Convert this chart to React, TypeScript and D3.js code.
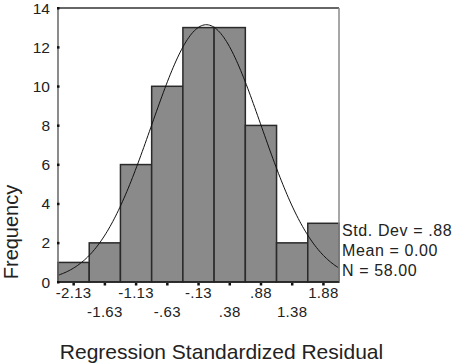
import React from "react";
import * as d3 from "d3";

const binCenters = [-2.125, -1.625, -1.125, -0.625, -0.125, 0.375, 0.875, 1.375, 1.875];
const frequencies = [1, 2, 6, 10, 13, 13, 8, 2, 3];
const tickLabels = ["-2.13", "-1.63", "-1.13", "-.63", "-.13", ".38", ".88", "1.38", "1.88"];
const yTicks = [0, 2, 4, 6, 8, 10, 12, 14];
const statLines = ["Std. Dev = .88", "Mean = 0.00", "N = 58.00"];
const stdDev = 0.88;
const mean = 0;
const nTotal = 58;
const binWidth = 0.5;

const W = 454;
const H = 363;
const left = 58;
const right = 339;
const top = 8;
const bottom = 282;

export default function App() {
  const x = d3.scaleLinear().domain([-2.375, 2.125]).range([left, right]);
  const y = d3.scaleLinear().domain([0, 14]).range([bottom, top]);
  const font = "'Liberation Sans', Arial, sans-serif";

  const peak = (nTotal * binWidth) / (stdDev * Math.sqrt(2 * Math.PI));
  const curvePts = d3.range(0, 201).map((i) => {
    const v = -2.375 + (4.5 * i) / 200;
    const z = (v - mean) / stdDev;
    return [v, peak * Math.exp(-0.5 * z * z)] as [number, number];
  });
  const line = d3
    .line<[number, number]>()
    .x((d) => x(d[0]))
    .y((d) => y(d[1]))
    .curve(d3.curveBasis);

  return (
    <svg
      width={W}
      height={H}
      style={{ position: "absolute", left: 0, top: 0, background: "#fff" }}
      fontFamily={font}
    >
      <rect x={0} y={0} width={W} height={H} fill="#fff" />
      {binCenters.map((c, i) => (
        <rect
          key={i}
          x={x(c - binWidth / 2)}
          y={y(frequencies[i])}
          width={x(c + binWidth / 2) - x(c - binWidth / 2)}
          height={y(0) - y(frequencies[i])}
          fill="#8a8a8a"
          stroke="#2a2a2a"
          strokeWidth={1.5}
        />
      ))}
      <path d={line(curvePts) || ""} fill="none" stroke="#111" strokeWidth={1} />
      {/* frame */}
      <line x1={left} x2={right} y1={top} y2={top} stroke="#333" strokeWidth={1.5} />
      <line x1={right} x2={right} y1={top} y2={bottom} stroke="#8a8a8a" strokeWidth={1.5} />
      <line x1={left} x2={left} y1={top} y2={bottom} stroke="#666" strokeWidth={1.5} />
      <line x1={left} x2={right} y1={bottom} y2={bottom} stroke="#222" strokeWidth={1.5} />
      {/* y ticks */}
      {yTicks.map((t) => (
        <g key={t}>
          <rect x={left - 1} y={y(t) - 1} width={2.5} height={2.5} fill="#111" />
          <text x={50} y={y(t) + 5.5} textAnchor="end" fontSize={15.5} fill="#222">
            {t}
          </text>
        </g>
      ))}
      {/* x ticks */}
      {binCenters.map((c, i) => (
        <g key={i}>
          <rect x={x(c) - 1.2} y={bottom + 1} width={2.5} height={2.5} fill="#111" />
          <text
            x={x(c)}
            y={i % 2 === 0 ? 298 : 316.5}
            textAnchor="middle"
            fontSize={15}
            letterSpacing={0.3}
            fill="#222"
          >
            {tickLabels[i]}
          </text>
        </g>
      ))}
      {/* stats */}
      {statLines.map((s, i) => (
        <text key={i} x={342} y={235.5 + i * 20} fontSize={16} letterSpacing={0.6} fill="#222">
          {s}
        </text>
      ))}
      <text
        transform={`translate(18,232) rotate(-90)`}
        textAnchor="middle"
        fontSize={20}
        fill="#222"
      >
        Frequency
      </text>
      <text x={221.5} y={359} textAnchor="middle" fontSize={21} fill="#222">
        Regression Standardized Residual
      </text>
    </svg>
  );
}
